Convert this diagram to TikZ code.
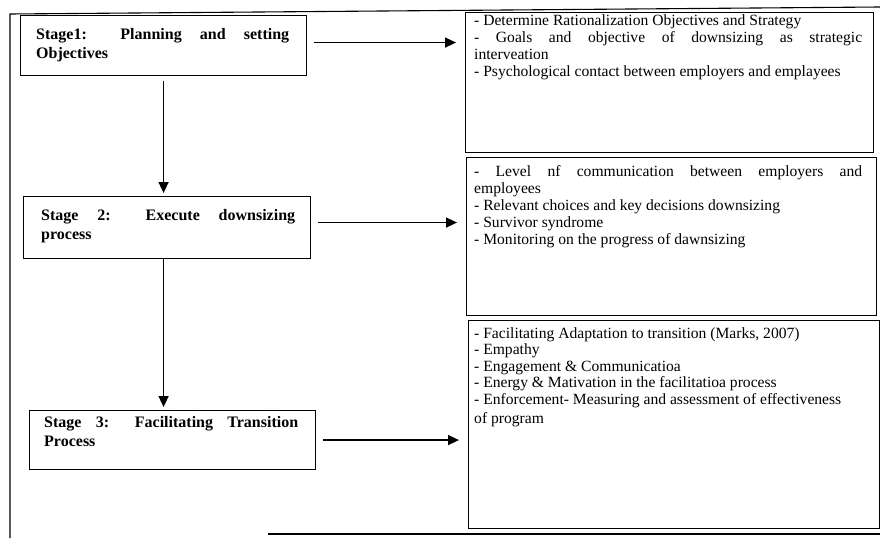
\documentclass[tikz,border=0pt]{standalone}
\usepackage{fontspec}
\setmainfont{Liberation Serif}
\usetikzlibrary{arrows.meta}
\begin{document}
\begin{tikzpicture}[x=1pt,y=-1pt,
  framel/.style={line width=1.1pt},
  box/.style={draw, line width=1.1pt, rectangle, inner sep=0pt, anchor=north west},
  arr/.style={line width=1.5pt, -{Triangle[length=11pt,width=10pt]}},
  st/.style={anchor=north west, inner sep=0pt, align=left, font=\fontsize{16}{19}\selectfont\bfseries},
  rt/.style={anchor=north west, inner sep=0pt, align=left, font=\fontsize{15.6}{17}\selectfont}
]
\useasboundingbox (0,0) rectangle (880,538);
% outer frame
\draw[framel] (10,538) -- (10,14) -- (880,7);
\draw[framel] (268,534) -- (880,534);
% stage boxes
\node[box, minimum width=286pt, minimum height=60pt] (s1) at (20,15) {};
\node[box, minimum width=287pt, minimum height=62pt] (s2) at (23,196) {};
\node[box, minimum width=286pt, minimum height=59pt] (s3) at (29,410) {};
% right boxes
\node[box, minimum width=408pt, minimum height=140pt] (r1) at (465,12) {};
\node[box, minimum width=410pt, minimum height=158pt] (r2) at (466,157) {};
\node[box, minimum width=411pt, minimum height=208pt] (r3) at (468,320) {};
% stage texts
\node[st] (l1) at (36,28) {\makebox[253pt][s]{Stage1: Planning and setting}\\Objectives};
\node[st] (l2) at (41,209) {\makebox[254pt][s]{Stage 2: Execute downsizing}\\process};
\node[st] (l3) at (44,416) {\makebox[254pt][s]{Stage 3: Facilitating Transition}\\Process};
% right texts
\node[rt] (t1) at (474,14) {- Determine Rationalization Objectives and Strategy\\
\makebox[388pt][s]{- Goals and objective of downsizing as strategic}\\
interveation\\
- Psychological contact between employers and emplayees};
\node[rt] (t2) at (474,165) {\makebox[388pt][s]{- Level nf communication between employers and}\\
employees\\
- Relevant choices and key decisions downsizing\\
- Survivor syndrome\\
- Monitoring on the progress of dawnsizing};
\node[rt] (t3) at (474,327) {- Facilitating Adaptation to transition (Marks, 2007)\\[-0.5pt]
- Empathy\\[-0.5pt]
- Engagement \& Communicatioa\\[-0.5pt]
- Energy \& Mativation in the facilitatioa process\\[-0.5pt]
- Enforcement- Measuring and assessment of effectiveness\\[2.5pt]
of program};
% arrows
\draw[arr, shorten <=7pt, shorten >=9pt] ([yshift=3pt]s1.east) -- ([yshift=3pt]s1.east -| r1.west);
\draw[arr, shorten <=7pt, shorten >=9pt] ([yshift=5pt]s2.east) -- ([yshift=5pt]s2.east -| r2.west);
\draw[arr, shorten <=7pt, shorten >=9pt] (s3.east) -- (s3.east -| r3.west);
\draw[arr, shorten <=5pt, shorten >=3pt] (s1.south) -- (s1.south |- s2.north);
\draw[arr, shorten <=0pt, shorten >=3pt] (s1.south |- s2.south) -- (s1.south |- s3.north);
\end{tikzpicture}
\end{document}
